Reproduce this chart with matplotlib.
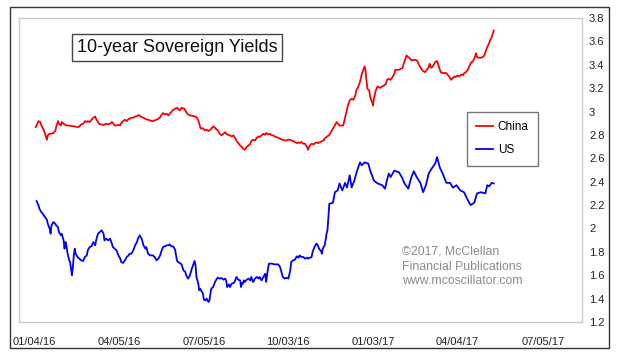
import matplotlib
matplotlib.use("Agg")
import matplotlib.pyplot as plt
import matplotlib.patches as patches
import pandas as pd

plt.rcParams['font.family'] = ['Liberation Sans', 'DejaVu Sans']

base_date = "2016-01-04"  # day offsets below count from this date

china_days = [2, 5, 7, 8, 10, 12, 14, 15, 17, 19, 21, 23, 24, 26, 27, 29, 30, 32, 33, 35, 37, 41, 44,
              48, 50, 51, 53, 55, 57, 58, 60, 62, 64, 66, 67, 69, 71, 73, 75, 76, 78, 80, 82, 84, 85,
              87, 89, 91, 93, 94, 96, 98, 100, 102, 103, 105, 107, 109, 111, 112, 114, 116, 118, 120,
              121, 123, 125, 127, 128, 130, 132, 134, 136, 137, 139, 141, 143, 145, 146, 148, 150, 152,
              154, 155, 157, 159, 162, 164, 166, 168, 172, 175, 177, 179, 180, 182, 184, 186, 188, 189,
              191, 193, 195, 197, 198, 200, 202, 204, 206, 207, 209, 211, 213, 215, 216, 218, 220, 222,
              224, 225, 227, 229, 231, 233, 234, 236, 238, 240, 242, 243, 245, 247, 249, 250, 252, 254,
              256, 258, 259, 261, 263, 265, 267, 268, 270, 272, 274, 276, 277, 279, 281, 283, 285, 286,
              288, 290, 292, 294, 295, 297, 299, 301, 303, 304, 306, 308, 310, 312, 313, 318, 322, 326,
              329, 333, 337, 338, 340, 342, 344, 346, 347, 349, 351, 353, 355, 356, 357, 358, 359, 361,
              362, 364, 365, 366, 368, 370, 371, 373, 375, 377, 379, 380, 382, 384, 386, 388, 389, 391,
              393, 395, 397, 398, 400, 401, 403, 404, 406, 407, 409, 411, 413, 414, 416, 417, 419, 421,
              423, 425, 426, 427, 428, 430, 432, 434, 435, 436, 438, 440, 442, 444, 445, 447, 449, 451,
              453, 454, 456, 458, 460, 462, 463, 465, 467, 469, 471, 472, 474, 476, 477, 479, 481, 483,
              485, 486, 488, 490, 491, 493, 495]
china_vals = [2.867, 2.918, 2.910, 2.881, 2.853, 2.810, 2.759, 2.796, 2.810, 2.810, 2.816, 2.833, 2.867,
              2.918, 2.895, 2.881, 2.910, 2.895, 2.890, 2.881, 2.881, 2.876, 2.873, 2.867, 2.881, 2.890,
              2.895, 2.918, 2.910, 2.918, 2.910, 2.930, 2.947, 2.958, 2.938, 2.910, 2.890, 2.890, 2.884,
              2.890, 2.895, 2.890, 2.895, 2.910, 2.901, 2.881, 2.881, 2.887, 2.881, 2.901, 2.918, 2.930,
              2.918, 2.938, 2.938, 2.947, 2.947, 2.958, 2.961, 2.967, 2.967, 2.952, 2.947, 2.938, 2.933,
              2.930, 2.924, 2.918, 2.918, 2.924, 2.930, 2.938, 2.952, 2.967, 2.987, 2.975, 2.981, 2.967,
              2.981, 2.995, 3.015, 3.024, 3.032, 3.024, 3.009, 3.032, 3.024, 2.995, 2.975, 2.967, 2.961,
              2.952, 2.924, 2.867, 2.853, 2.858, 2.839, 2.844, 2.833, 2.839, 2.853, 2.873, 2.861, 2.844,
              2.839, 2.810, 2.796, 2.810, 2.824, 2.810, 2.801, 2.796, 2.787, 2.796, 2.782, 2.753, 2.730,
              2.710, 2.696, 2.682, 2.673, 2.696, 2.710, 2.724, 2.747, 2.759, 2.753, 2.776, 2.787, 2.782,
              2.796, 2.810, 2.801, 2.816, 2.804, 2.810, 2.796, 2.796, 2.787, 2.782, 2.776, 2.767, 2.759,
              2.759, 2.753, 2.753, 2.759, 2.759, 2.753, 2.747, 2.739, 2.730, 2.736, 2.730, 2.739, 2.725,
              2.725, 2.696, 2.673, 2.710, 2.725, 2.719, 2.730, 2.736, 2.730, 2.739, 2.747, 2.753, 2.770,
              2.800, 2.855, 2.910, 2.880, 2.880, 3.015, 3.052, 3.095, 3.109, 3.101, 3.138, 3.180, 3.209,
              3.252, 3.323, 3.366, 3.386, 3.351, 3.266, 3.195, 3.180, 3.123, 3.081, 3.052, 3.109, 3.180,
              3.215, 3.209, 3.203, 3.215, 3.223, 3.237, 3.271, 3.280, 3.271, 3.294, 3.323, 3.357, 3.357,
              3.357, 3.366, 3.374, 3.408, 3.451, 3.480, 3.465, 3.460, 3.442, 3.437, 3.442, 3.442, 3.431,
              3.408, 3.380, 3.366, 3.346, 3.337, 3.357, 3.380, 3.408, 3.385, 3.374, 3.394, 3.423, 3.431,
              3.408, 3.380, 3.337, 3.328, 3.331, 3.328, 3.317, 3.300, 3.271, 3.289, 3.300, 3.294, 3.309,
              3.300, 3.317, 3.311, 3.328, 3.337, 3.357, 3.394, 3.423, 3.423, 3.451, 3.499, 3.465, 3.460,
              3.460, 3.465, 3.480, 3.508, 3.551, 3.585, 3.608, 3.640, 3.693]

us_days = [3, 5, 6, 8, 10, 12, 14, 15, 17, 18, 19, 21, 23, 24, 26, 27, 29, 30, 32, 33, 34, 35, 36, 38,
           39, 41, 42, 43, 44, 45, 47, 49, 51, 53, 55, 57, 58, 60, 62, 64, 66, 67, 69, 71, 73, 75, 76,
           78, 80, 82, 84, 85, 87, 89, 91, 93, 94, 96, 98, 100, 102, 103, 105, 107, 109, 111, 112, 114,
           116, 118, 120, 121, 123, 125, 127, 128, 130, 132, 134, 136, 137, 139, 141, 143, 145, 146,
           148, 150, 152, 154, 155, 157, 159, 161, 163, 164, 166, 168, 170, 172, 173, 174, 175, 177,
           178, 179, 180, 182, 183, 185, 186, 188, 189, 190, 191, 193, 195, 197, 198, 200, 202, 204,
           206, 207, 208, 210, 211, 213, 215, 216, 218, 220, 222, 223, 224, 225, 226, 227, 229, 231,
           233, 234, 236, 238, 240, 242, 243, 245, 247, 249, 250, 252, 253, 256, 259, 263, 265, 267,
           268, 270, 272, 274, 276, 277, 279, 281, 283, 285, 286, 288, 290, 292, 294, 295, 297, 299,
           300, 302, 303, 304, 305, 307, 309, 310, 311, 313, 314, 315, 316, 317, 318, 322, 324, 327,
           329, 332, 335, 337, 340, 342, 345, 347, 348, 351, 353, 356, 360, 362, 366, 370, 375, 378,
           380, 382, 384, 388, 393, 396, 399, 403, 406, 409, 412, 416, 419, 422, 425, 428, 432, 434,
           437, 440, 444, 448, 451, 455, 459, 463, 466, 470, 474, 477, 481, 486, 488, 490, 493, 495]
us_vals = [2.234, 2.197, 2.169, 2.140, 2.120, 2.098, 2.075, 2.041, 1.998, 1.955, 2.027, 2.055, 2.041,
           2.027, 2.012, 1.970, 1.941, 1.955, 1.898, 1.827, 1.884, 1.856, 1.799, 1.727, 1.713, 1.599,
           1.670, 1.770, 1.827, 1.784, 1.756, 1.742, 1.727, 1.722, 1.756, 1.770, 1.813, 1.841, 1.847,
           1.884, 1.856, 1.898, 1.955, 1.970, 1.984, 1.955, 1.898, 1.913, 1.898, 1.913, 1.870, 1.841,
           1.827, 1.813, 1.770, 1.742, 1.713, 1.705, 1.727, 1.756, 1.770, 1.784, 1.784, 1.813, 1.856,
           1.884, 1.913, 1.941, 1.913, 1.856, 1.827, 1.841, 1.784, 1.770, 1.770, 1.770, 1.756, 1.727,
           1.742, 1.770, 1.799, 1.841, 1.847, 1.856, 1.856, 1.864, 1.847, 1.847, 1.819, 1.727, 1.713,
           1.705, 1.693, 1.642, 1.628, 1.599, 1.571, 1.599, 1.656, 1.699, 1.722, 1.685, 1.585, 1.528,
           1.471, 1.485, 1.471, 1.442, 1.391, 1.385, 1.400, 1.371, 1.385, 1.442, 1.485, 1.499, 1.542,
           1.571, 1.579, 1.571, 1.576, 1.562, 1.571, 1.556, 1.499, 1.522, 1.499, 1.528, 1.534, 1.542,
           1.585, 1.562, 1.556, 1.499, 1.534, 1.528, 1.556, 1.542, 1.562, 1.571, 1.556, 1.585, 1.542,
           1.571, 1.585, 1.571, 1.585, 1.556, 1.585, 1.613, 1.542, 1.656, 1.699, 1.699, 1.693, 1.693,
           1.670, 1.613, 1.585, 1.571, 1.579, 1.571, 1.642, 1.713, 1.727, 1.733, 1.762, 1.750, 1.770,
           1.756, 1.756, 1.742, 1.750, 1.742, 1.750, 1.756, 1.799, 1.841, 1.856, 1.870, 1.864, 1.827,
           1.807, 1.784, 1.827, 1.856, 1.898, 1.955, 1.984, 2.090, 2.210, 2.220, 2.310, 2.325, 2.385,
           2.325, 2.390, 2.350, 2.455, 2.350, 2.410, 2.470, 2.495, 2.565, 2.540, 2.565, 2.555, 2.495,
           2.410, 2.385, 2.370, 2.340, 2.410, 2.470, 2.440, 2.495, 2.480, 2.440, 2.385, 2.340, 2.430,
           2.490, 2.440, 2.390, 2.310, 2.370, 2.470, 2.510, 2.555, 2.610, 2.520, 2.470, 2.390, 2.390,
           2.350, 2.370, 2.325, 2.310, 2.260, 2.200, 2.220, 2.300, 2.310, 2.300, 2.370, 2.360, 2.390,
           2.385]

x_ticks = ["2016-01-04", "2016-04-05", "2016-07-05", "2016-10-03", "2017-01-03", "2017-04-04", "2017-07-05"]
y_ticks = [1.2, 1.4, 1.6, 1.8, 2.0, 2.2, 2.4, 2.6, 2.8, 3.0, 3.2, 3.4, 3.6, 3.8]
title = "10-year Sovereign Yields"
watermark = ["\u00a92017, McClellan", "Financial Publications", "www.mcoscillator.com"]

base = pd.Timestamp(base_date)
china_x = [base + pd.Timedelta(days=d) for d in china_days]
us_x = [base + pd.Timedelta(days=d) for d in us_days]

W, H = 619, 358
fig = plt.figure(figsize=(W / 100, H / 100), dpi=100)
fig.patch.set_facecolor("white")

# outer frame
fig.add_artist(patches.Rectangle((10 / W, 1 - 348 / H), 599 / W, 341 / H, transform=fig.transFigure,
                                 fill=False, edgecolor="#333333", lw=1.0))

ax = fig.add_axes([19 / W, 1 - 322 / H, (582 - 19) / W, (322 - 18) / H])
ax.plot(china_x, china_vals, color="#ff0000", lw=1.3, label="China")
ax.plot(us_x, us_vals, color="#0000ff", lw=1.3, label="US")

ax.set_ylim(1.2, 3.8)
ax.set_xlim(pd.Timestamp("2015-12-19"), pd.Timestamp("2017-08-16"))
ax.set_yticks(y_ticks)
ax.set_yticklabels(["%g" % v for v in y_ticks])
ax.yaxis.tick_right()
xt = [pd.Timestamp(t) for t in x_ticks]
ax.set_xticks(xt)
ax.set_xticklabels([t.strftime("%m/%d/%y") for t in xt])
ax.tick_params(axis="both", length=0, labelsize=8, colors="#222222")
ax.tick_params(axis="y", pad=5)
ax.tick_params(axis="x", pad=11)
for s in ax.spines.values():
    s.set_color("#cccccc")
    s.set_linewidth(1.0)

fig.text(177 / W, 1 - 47.5 / H, title, ha="center", va="center", fontsize=13, color="#111111",
         bbox=dict(boxstyle="square,pad=0.28", facecolor="white", edgecolor="#444444", lw=1.0))

leg = ax.legend(loc="upper left", bbox_to_anchor=(467 / W, 1 - 112 / H), bbox_transform=fig.transFigure,
                fontsize=8.5, frameon=True, fancybox=False, edgecolor="#555555", handlelength=1.4,
                handletextpad=0.4, labelspacing=0.9, borderpad=0.8, borderaxespad=0)
leg.get_frame().set_linewidth(1.0)

for i, line in enumerate(watermark):
    fig.text(402 / W, 1 - (252 + 14.5 * i) / H, line, ha="left", va="center", fontsize=8.8, color="#8c8c8c")

fig.savefig("out.png", dpi=100)
